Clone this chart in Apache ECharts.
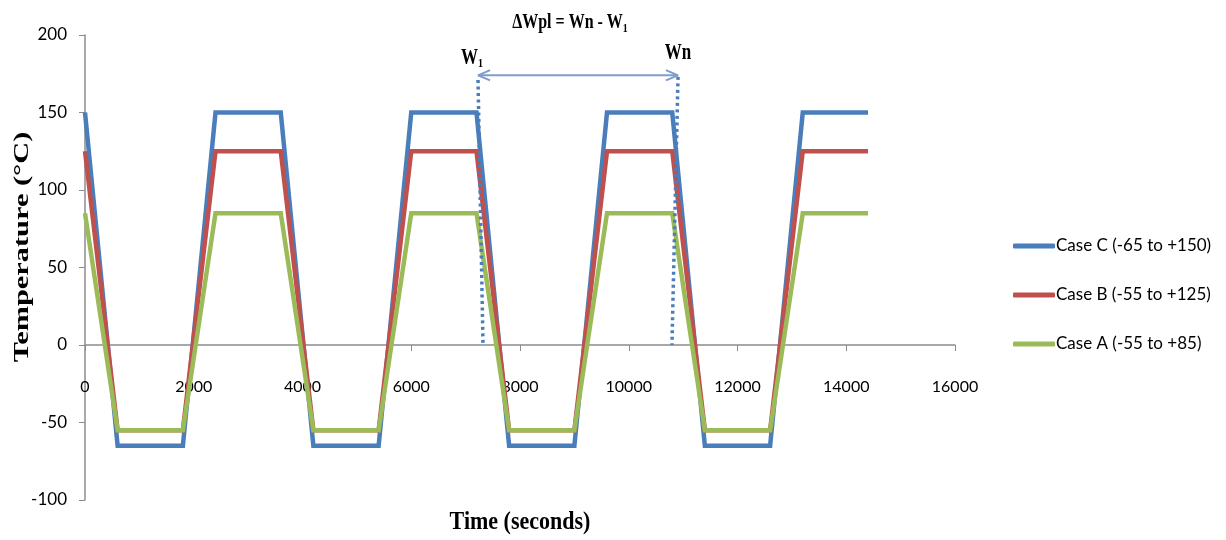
<!DOCTYPE html>
<html>
<head>
<meta charset="utf-8">
<script src="https://cdn.jsdelivr.net/npm/echarts@6/dist/echarts.min.js"></script>
<style>
  html, body { margin: 0; padding: 0; background: #fff; }
  #chart { width: 1226px; height: 540px; }
</style>
</head>
<body>
<div id="chart"></div>
<script>
// Thermal cycling profiles: time (s) vs chamber temperature (°C)
const times = [0, 600, 1800, 2400, 3600, 4200, 5400, 6000, 7200, 7800, 9000, 9600, 10800, 11400, 12600, 13200, 14400];
const caseC = [150, -65, -65, 150, 150, -65, -65, 150, 150, -65, -65, 150, 150, -65, -65, 150, 150];
const caseB = [125, -55, -55, 125, 125, -55, -55, 125, 125, -55, -55, 125, 125, -55, -55, 125, 125];
const caseA = [85, -55, -55, 85, 85, -55, -55, 85, 85, -55, -55, 85, 85, -55, -55, 85, 85];
const seriesNames = ['Case C (-65 to +150)', 'Case B (-55 to +125)', 'Case A (-55 to +85)'];

// Markers for the first and n-th cycle and the span between them
const w1Marker = [[7228, 171], [7320, 0]];
const wnMarker = [[10906, 173], [10795, 0]];
const spanArrow = [[7228, 174], [10906, 174]];
const leftHead = [[7450, 177.3], [7228, 174], [7450, 170.7]];
const rightHead = [[10684, 177.3], [10906, 174], [10684, 170.7]];

const zip = (xs, ys) => xs.map((x, i) => [x, ys[i]]);

const chart = echarts.init(document.getElementById('chart'));

const labelFont = 'Lato, "Open Sans", sans-serif';
const serifFont = '"Liberation Serif", "Times New Roman", serif';
const axisGrey = '#8c8c8c';

const profile = (name, ys, color) => ({
  name, type: 'line', data: zip(times, ys),
  symbol: 'none', lineStyle: { color, width: 4.5, join: 'miter' },
  itemStyle: { color }, animation: false, z: 3
});

const annot = (data, style) => ({
  type: 'line', data, symbol: 'none', silent: true, animation: false,
  lineStyle: style, z: 4
});

chart.setOption({
  backgroundColor: '#fff',
  animation: false,
  grid: { left: 85, right: 271, top: 35, bottom: 40 },
  xAxis: {
    type: 'value', min: 0, max: 16000, interval: 2000, z: 1,
    axisLine: { onZero: true, lineStyle: { color: axisGrey, width: 1.5 } },
    axisTick: { show: true, length: 6, lineStyle: { color: axisGrey } },
    // labels sit just under the zero line
    axisLabel: { margin: -121, color: '#000', fontSize: 16, fontFamily: labelFont, formatter: v => String(v) },
    splitLine: { show: false }
  },
  yAxis: {
    type: 'value', min: -100, max: 200, interval: 50,
    axisLine: { show: true, onZero: false, lineStyle: { color: axisGrey, width: 1.5 } },
    axisTick: { show: true, length: 6, lineStyle: { color: axisGrey } },
    axisLabel: { margin: 18, color: '#000', fontSize: 17, fontFamily: labelFont },
    splitLine: { show: false }
  },
  legend: {
    orient: 'vertical', left: 1008, top: 231,
    data: seriesNames,
    icon: 'roundRect', itemWidth: 42, itemHeight: 5, itemGap: 29,
    textStyle: { color: '#000', fontSize: 17, lineHeight: 20, fontFamily: labelFont, padding: [0, 0, 0, -4] }
  },
  series: [
    profile(seriesNames[0], caseC, '#4a7ebb'),
    profile(seriesNames[1], caseB, '#c0504d'),
    profile(seriesNames[2], caseA, '#9bbb59'),
    annot(w1Marker, { color: '#4a7ebb', width: 3.5, type: [3, 3.5] }),
    annot(wnMarker, { color: '#4a7ebb', width: 3.5, type: [3, 3.5] }),
    annot(spanArrow, { color: '#7f9ccf', width: 2 }),
    annot(leftHead, { color: '#7f9ccf', width: 2 }),
    annot(rightHead, { color: '#7f9ccf', width: 2 })
  ],
  graphic: [
    {
      type: 'text', x: 22, y: 247, rotation: Math.PI / 2, scaleX: 1.38,
      style: {
        text: 'Temperature (°C)', align: 'center', verticalAlign: 'middle',
        font: 'bold 22px ' + serifFont, fill: '#000'
      }
    },
    {
      type: 'text', x: 520, y: 522, scaleY: 1.15,
      style: {
        text: 'Time (seconds)', align: 'center', verticalAlign: 'middle',
        font: 'bold 22px ' + serifFont, fill: '#000'
      }
    },
    {
      type: 'text', x: 570, y: 23, scaleY: 1.3,
      style: {
        text: '{m|ΔWpl = Wn - W}{s|1}', align: 'center', verticalAlign: 'middle',
        rich: {
          m: { fontFamily: serifFont, fontWeight: 'bold', fontSize: 16, color: '#000' },
          s: { fontFamily: serifFont, fontWeight: 'bold', fontSize: 10, color: '#000', padding: [8, 0, 0, 0] }
        }
      }
    },
    {
      type: 'text', x: 472, y: 58, scaleY: 1.3,
      style: {
        text: '{m|W}{s|1}', align: 'center', verticalAlign: 'middle',
        rich: {
          m: { fontFamily: serifFont, fontWeight: 'bold', fontSize: 17, color: '#000' },
          s: { fontFamily: serifFont, fontWeight: 'bold', fontSize: 10, color: '#000', padding: [8, 0, 0, 0] }
        }
      }
    },
    {
      type: 'text', x: 678, y: 53, scaleY: 1.3,
      style: {
        text: 'Wn', align: 'center', verticalAlign: 'middle',
        font: 'bold 17px ' + serifFont, fill: '#000'
      }
    }
  ]
});
</script>
</body>
</html>
